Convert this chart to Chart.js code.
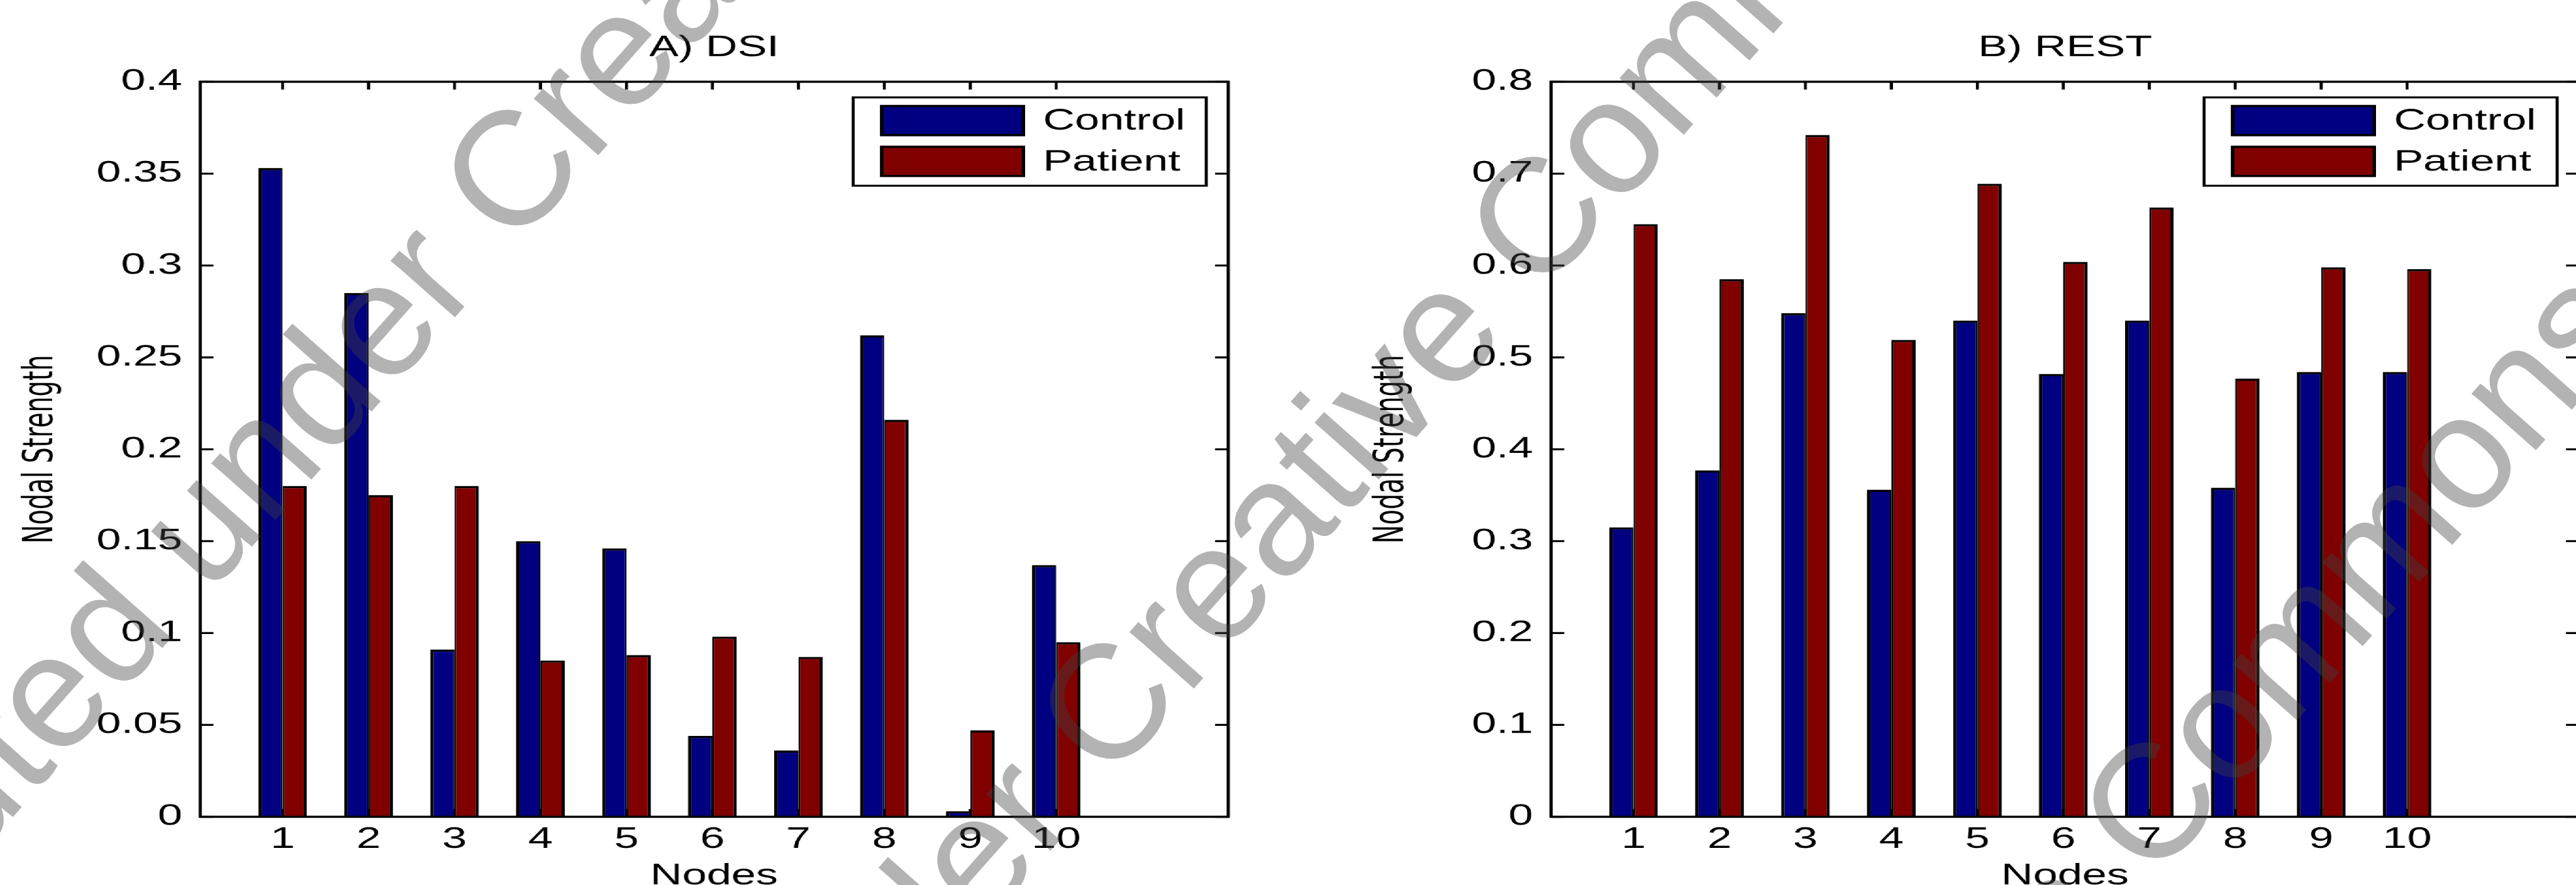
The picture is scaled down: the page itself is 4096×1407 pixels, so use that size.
<!DOCTYPE html>
<html>
<head>
<meta charset="utf-8">
<script src="https://cdn.jsdelivr.net/npm/chart.js@4.4.1/dist/chart.umd.min.js"></script>
<style>
  html, body { margin: 0; padding: 0; background: #fff; overflow: hidden; }
  #page { position: relative; width: 4096px; height: 1407px; overflow: hidden; background: #fff; }
  #stretch { position: absolute; left: 0; top: 0; width: 2730.667px; height: 1460px;
             transform: scaleX(1.5); transform-origin: 0 0; }
  .panel { position: absolute; top: 0; width: 1306px; height: 1460px; }
  .wm { position: absolute; white-space: nowrap; font-family: 'Liberation Sans', Arial, sans-serif;
        font-size: 258px; line-height: 1; color: rgba(65,65,65,0.4); pointer-events: none; }
</style>
</head>
<body>
<div id="page">
  <div id="stretch">
    <div class="panel" id="p1" style="left:0px"><canvas id="c1"></canvas></div>
    <div class="panel" id="p2" style="left:1431.5px"><canvas id="c2"></canvas></div>
  </div>
</div>
<script>
// ---------------- data ----------------
const nodes = [1, 2, 3, 4, 5, 6, 7, 8, 9, 10];
const dsiControl  = [0.353, 0.285, 0.091, 0.150, 0.146, 0.044, 0.036, 0.262, 0.003, 0.137];
const dsiPatient  = [0.180, 0.175, 0.180, 0.085, 0.088, 0.098, 0.087, 0.216, 0.047, 0.095];
const restControl = [0.315, 0.377, 0.548, 0.356, 0.540, 0.482, 0.540, 0.358, 0.484, 0.484];
const restPatient = [0.645, 0.585, 0.742, 0.519, 0.689, 0.604, 0.663, 0.477, 0.598, 0.596];
const dsiTicks = [0, 0.05, 0.1, 0.15, 0.2, 0.25, 0.3, 0.35, 0.4];
const dsiTickLabels = ['0', '0.05', '0.1', '0.15', '0.2', '0.25', '0.3', '0.35', '0.4'];
const restTicks = [0, 0.1, 0.2, 0.3, 0.4, 0.5, 0.6, 0.7, 0.8];
const restTickLabels = ['0', '0.1', '0.2', '0.3', '0.4', '0.5', '0.6', '0.7', '0.8'];
const seriesNames = ['Control', 'Patient'];
const seriesColors = ['#000080', '#800000'];
const panelTitles = ['A) DSI', 'B) REST'];
const xTitle = 'Nodes';
const yTitle = 'Nodal Strength';
const watermarkText = 'Distributed under Creative Commons license';

// ---------------- styling ----------------
const FONT = "'Liberation Sans', Arial, Helvetica, sans-serif";
const FS = 46.8;
const LW = 3.5;

function pickYTitleFont() {
  const c = document.createElement('canvas').getContext('2d');
  c.font = '100px monospace';
  const base = c.measureText(yTitle).width;
  for (const f of ['Liberation Sans Narrow', 'DejaVu Sans Condensed']) {
    c.font = `100px "${f}", monospace`;
    const w = c.measureText(yTitle).width;
    if (Math.abs(w - base) > 1) return { family: `"${f}"`, size: Math.min(60, 300 / (w / 100)) };
  }
  c.font = `100px ${FONT}`;
  const w = c.measureText(yTitle).width;
  return { family: FONT, size: Math.min(60, 300 / (w / 100)) };
}
const YF = pickYTitleFont();

const framePlugin = {
  id: 'matlabFrame',
  beforeDatasetsDraw(chart) {
    const { ctx, chartArea: a, scales: { x, y } } = chart;
    ctx.save();
    ctx.strokeStyle = '#000';
    ctx.lineWidth = 3.2;
    ctx.beginPath();
    for (const t of x.ticks) {
      const px = x.getPixelForValue(t.value);
      ctx.moveTo(px, a.top); ctx.lineTo(px, a.top + 12.4);
      ctx.moveTo(px, a.bottom); ctx.lineTo(px, a.bottom - 12.4);
    }
    for (const t of y.ticks) {
      const py = y.getPixelForValue(t.value);
      ctx.moveTo(a.left, py); ctx.lineTo(a.left + 14, py);
      ctx.moveTo(a.right, py); ctx.lineTo(a.right - 14, py);
    }
    ctx.stroke();
    ctx.restore();
  },
  afterDatasetsDraw(chart) {
    const { ctx, chartArea: a } = chart;
    ctx.save();
    ctx.strokeStyle = '#000';
    ctx.lineWidth = LW;
    ctx.strokeRect(a.left, a.top, a.right - a.left, a.bottom - a.top);
    ctx.restore();
  }
};

const legendPlugin = {
  id: 'boxLegend',
  afterDraw(chart) {
    const { ctx, chartArea: a } = chart;
    const bw = 377.3, bh = 143.4;
    const bx = a.right - 21.7 - bw, by = a.top + 23.4;
    ctx.save();
    ctx.fillStyle = '#fff';
    ctx.fillRect(bx, by, bw, bh);
    ctx.strokeStyle = '#000';
    ctx.lineWidth = 3;
    ctx.strokeRect(bx + 1.5, by + 1.5, bw - 3, bh - 3);
    chart.data.datasets.forEach((ds, i) => {
      const sx = bx + 30, sw = 153.6, sh = 49.7;
      const sy = by + (i === 0 ? 13.4 : 78.4);
      ctx.fillStyle = ds.backgroundColor;
      ctx.fillRect(sx, sy, sw, sh);
      ctx.lineWidth = 3.5;
      ctx.strokeStyle = '#000';
      ctx.strokeRect(sx + 1.75, sy + 1.75, sw - 3.5, sh - 3.5);
      ctx.fillStyle = '#000';
      ctx.font = `${FS}px ${FONT}`;
      ctx.textAlign = 'left';
      ctx.textBaseline = 'middle';
      ctx.fillText(ds.label, bx + 202.7, sy + sh / 2 + 1.5);
    });
    ctx.restore();
  }
};

function makeChart(id, title, ctrl, pat, yTicks, yTickLabels, yMax) {
  const tickFont = { family: FONT, size: FS, weight: 'normal', lineHeight: 1.2 };
  return new Chart(document.getElementById(id), {
    type: 'bar',
    data: {
      datasets: [
        { label: seriesNames[0], data: nodes.map((n, i) => ({ x: n, y: ctrl[i] })),
          backgroundColor: seriesColors[0], borderColor: '#000',
          borderWidth: { top: LW, left: LW, right: LW / 2, bottom: 0 }, borderSkipped: 'start',
          categoryPercentage: 0.566, barPercentage: 1.0 },
        { label: seriesNames[1], data: nodes.map((n, i) => ({ x: n, y: pat[i] })),
          backgroundColor: seriesColors[1], borderColor: '#000',
          borderWidth: { top: LW, left: LW / 2, right: LW, bottom: 0 }, borderSkipped: 'start',
          categoryPercentage: 0.566, barPercentage: 1.0 }
      ]
    },
    options: {
      responsive: true, maintainAspectRatio: false, animation: false, devicePixelRatio: 1.5,
      layout: { padding: { left: 0, right: 4, top: 0, bottom: 0 } },
      plugins: {
        legend: { display: false },
        tooltip: { enabled: false },
        title: { display: true, text: title, fullSize: false, color: '#000',
                 font: tickFont, padding: { top: 48.4, bottom: 25.4 } }
      },
      scales: {
        x: {
          type: 'linear', min: 0.04, max: 12, offset: false,
          grid: { display: false, drawTicks: false, offset: false },
          border: { display: false },
          afterBuildTicks: s => { s.ticks = nodes.map(v => ({ value: v })); },
          ticks: { color: '#000', font: tickFont, padding: 8.3, autoSkip: false,
                   maxRotation: 0, minRotation: 0, callback: v => String(v) },
          title: { display: true, text: xTitle, color: '#000', font: tickFont,
                   padding: { top: 0, bottom: 38.6 } },
          afterFit: s => { s.height = 161.5; }
        },
        y: {
          type: 'linear', min: 0, max: yMax,
          grid: { display: false, drawTicks: false },
          border: { display: false },
          afterBuildTicks: s => { s.ticks = yTicks.map(v => ({ value: v })); },
          ticks: { color: '#000', font: tickFont, padding: 19,
                   callback: v => yTickLabels[yTicks.indexOf(v)] },
          title: { display: true, text: yTitle, color: '#000',
                   font: { family: YF.family, size: YF.size, weight: 'normal', lineHeight: 1.2 },
                   padding: { top: 44 - 0.6 * YF.size, bottom: 0 } },
          afterFit: s => { s.width = 212.2; }
        }
      }
    },
    plugins: [framePlugin, legendPlugin]
  });
}

makeChart('c1', panelTitles[0], dsiControl, dsiPatient, dsiTicks, dsiTickLabels, 0.4);
makeChart('c2', panelTitles[1], restControl, restPatient, restTicks, restTickLabels, 0.8);

// ---------------- watermark overlay ----------------
const wmCenters = [[1096, -51], [2043, 797], [3018, 1728]];
const page = document.getElementById('page');
for (const [cx, cy] of wmCenters) {
  const d = document.createElement('div');
  d.className = 'wm';
  d.textContent = watermarkText;
  d.style.left = cx + 'px';
  d.style.top = cy + 'px';
  d.style.transform = 'translate(-50%, -50%) rotate(-48.5deg)';
  page.appendChild(d);
}
</script>
</body>
</html>
